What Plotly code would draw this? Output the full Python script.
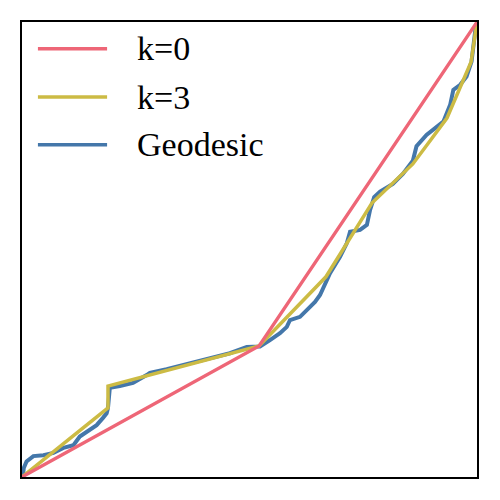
import plotly.graph_objects as go

# k=0 path
k0_x = [0.0, 0.521, 1.0]
k0_y = [0.0, 0.288, 1.0]

# k=3 path
k3_x = [0.0, 0.189, 0.189, 0.521, 0.668, 0.769, 0.859, 0.934, 0.987, 1.0]
k3_y = [0.0, 0.152, 0.200, 0.288, 0.440, 0.602, 0.688, 0.789, 0.912, 1.0]

# Geodesic path
geo_x = [0.002, 0.004, 0.010, 0.018, 0.025, 0.047, 0.069, 0.091, 0.113, 0.127,
         0.142, 0.164, 0.178, 0.186, 0.189, 0.193, 0.215, 0.244, 0.274, 0.281,
         0.318, 0.362, 0.406, 0.457, 0.494, 0.516, 0.523, 0.545, 0.567, 0.582,
         0.589, 0.611, 0.629, 0.644, 0.655, 0.666, 0.677, 0.699, 0.714, 0.721,
         0.743, 0.758, 0.765, 0.774, 0.787, 0.815, 0.837, 0.859, 0.867, 0.889,
         0.908, 0.926, 0.941, 0.948, 0.963, 0.977, 0.988, 0.994, 0.998]
geo_y = [0.002, 0.020, 0.034, 0.042, 0.046, 0.048, 0.053, 0.064, 0.070, 0.089,
         0.100, 0.114, 0.130, 0.140, 0.152, 0.196, 0.200, 0.207, 0.224, 0.229,
         0.237, 0.248, 0.257, 0.272, 0.286, 0.288, 0.287, 0.301, 0.316, 0.330,
         0.345, 0.352, 0.371, 0.385, 0.400, 0.426, 0.448, 0.484, 0.514, 0.539,
         0.543, 0.554, 0.587, 0.615, 0.627, 0.644, 0.666, 0.695, 0.727, 0.752,
         0.766, 0.781, 0.818, 0.851, 0.862, 0.880, 0.913, 0.960, 0.996]

legend_labels = ["k=0", "k=3", "Geodesic"]
colors = {"k=0": "#EE6677", "k=3": "#CCBB44", "Geodesic": "#4477AA"}

fig = go.Figure()
fig.add_trace(go.Scatter(x=geo_x, y=geo_y, mode="lines", name="Geodesic",
                         line=dict(color=colors["Geodesic"], width=4), showlegend=False))
fig.add_trace(go.Scatter(x=k3_x, y=k3_y, mode="lines", name="k=3",
                         line=dict(color=colors["k=3"], width=3.5), showlegend=False))
fig.add_trace(go.Scatter(x=k0_x, y=k0_y, mode="lines", name="k=0",
                         line=dict(color=colors["k=0"], width=3.3), showlegend=False))

# custom legend (long line samples like the reference)
leg_y = [0.941, 0.835, 0.730]
for lab, yy in zip(legend_labels, leg_y):
    fig.add_shape(type="line", xref="paper", yref="paper", x0=0.035, x1=0.187,
                  y0=yy, y1=yy, line=dict(color=colors[lab], width=3.5))
    fig.add_annotation(xref="paper", yref="paper", x=0.248, y=yy, text=lab,
                       showarrow=False, xanchor="left", yanchor="middle",
                       font=dict(family="Liberation Serif", size=34, color="black"))

axis_style = dict(range=[0, 1], showgrid=False, zeroline=False, showticklabels=False,
                  ticks="", showline=True, mirror=True, linecolor="black", linewidth=2)
fig.update_xaxes(**axis_style)
fig.update_yaxes(**axis_style)
fig.update_layout(width=484, height=484, margin=dict(l=14, r=15, t=14, b=15),
                  plot_bgcolor="white", paper_bgcolor="white", showlegend=False)

fig.write_html("out.html")
